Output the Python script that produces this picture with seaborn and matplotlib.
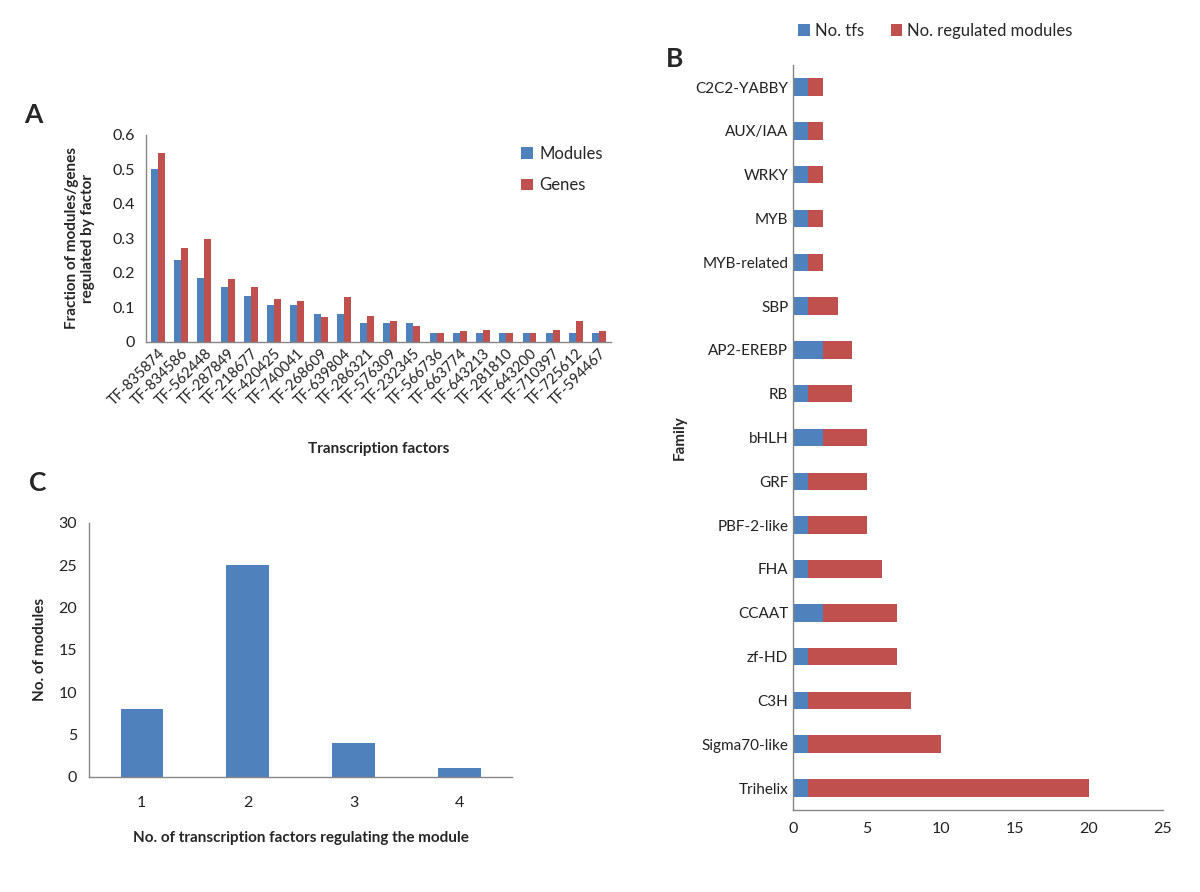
import matplotlib
matplotlib.use('Agg')
import matplotlib.pyplot as plt
import pandas as pd
import seaborn as sns
from matplotlib.ticker import FixedLocator, FuncFormatter

# Panel A data
tf_names = ['TF-835874', 'TF-834586', 'TF-562448', 'TF-287849', 'TF-218677',
            'TF-420425', 'TF-740041', 'TF-268609', 'TF-639804', 'TF-286321',
            'TF-576309', 'TF-232345', 'TF-566736', 'TF-663774', 'TF-643213',
            'TF-281810', 'TF-643200', 'TF-710397', 'TF-725612', 'TF-594467']
modules_frac = [0.5, 0.237, 0.185, 0.158, 0.132, 0.105, 0.105, 0.079, 0.079, 0.053,
                0.053, 0.053, 0.026, 0.026, 0.026, 0.026, 0.026, 0.026, 0.026, 0.026]
genes_frac = [0.547, 0.272, 0.297, 0.183, 0.158, 0.123, 0.119, 0.070, 0.128, 0.075,
              0.061, 0.045, 0.026, 0.031, 0.035, 0.026, 0.026, 0.035, 0.061, 0.031]

# Panel B data
families = ['C2C2-YABBY', 'AUX/IAA', 'WRKY', 'MYB', 'MYB-related', 'SBP', 'AP2-EREBP',
            'RB', 'bHLH', 'GRF', 'PBF-2-like', 'FHA', 'CCAAT', 'zf-HD', 'C3H',
            'Sigma70-like', 'Trihelix']
n_tfs = [1, 1, 1, 1, 1, 1, 2, 1, 2, 1, 1, 1, 2, 1, 1, 1, 1]
n_reg_modules = [1, 1, 1, 1, 1, 2, 2, 3, 3, 4, 4, 5, 5, 6, 7, 9, 19]

# Panel C data
n_regulating = ['1', '2', '3', '4']
n_modules = [8, 25, 4, 1]

BLUE = '#4F81BD'
RED = '#C0504D'
AXIS = '#868686'

sns.set_style('white')
plt.rcParams['font.family'] = ['Lato', 'DejaVu Sans']


def category_ticks(ax, n, axis='x'):
    # Excel-like: tick marks between categories, none at the labels
    bounds = FixedLocator([i - 0.5 for i in range(n + 1)])
    if axis == 'x':
        ax.xaxis.set_minor_locator(bounds)
        ax.set_xlim(-0.5, n - 0.5)
    else:
        ax.yaxis.set_minor_locator(bounds)
        ax.set_ylim(n - 0.5, -0.5)
    ax.tick_params(axis=axis, which='major', length=0)
    ax.tick_params(axis=axis, which='minor', length=5, width=1, color=AXIS, direction='out')


def style_axes(ax):
    sns.despine(ax=ax)
    for s in ['left', 'bottom']:
        ax.spines[s].set_color(AXIS)
        ax.spines[s].set_linewidth(1)
    ax.tick_params(colors='#222222', labelsize=11.5)


fig = plt.figure(figsize=(12, 8.92), dpi=100)

# ---------- A ----------
ax_a = fig.add_axes([0.122, 0.617, 0.387, 0.232])
df_a = pd.DataFrame({
    'tf': tf_names * 2,
    'frac': modules_frac + genes_frac,
    'kind': ['Modules'] * len(tf_names) + ['Genes'] * len(tf_names),
})
sns.barplot(data=df_a, x='tf', y='frac', hue='kind', palette=[BLUE, RED],
            width=0.6, saturation=1, linewidth=0, ax=ax_a)
style_axes(ax_a)
category_ticks(ax_a, len(tf_names), 'x')
ax_a.set_ylim(0, 0.6)
ax_a.set_yticks([0, 0.1, 0.2, 0.3, 0.4, 0.5, 0.6])
ax_a.yaxis.set_major_formatter(FuncFormatter(lambda v, p: f'{v:g}'))
ax_a.tick_params(axis='y', length=5, color=AXIS, direction='out')
ax_a.set_xticks(range(len(tf_names)))
ax_a.set_xticklabels(tf_names, rotation=45, ha='right', rotation_mode='anchor', fontsize=10.5)
ax_a.set_xlabel('Transcription factors', fontsize=11, fontweight='bold', labelpad=24)
ax_a.set_ylabel('Fraction of modules/genes\nregulated by factor', fontsize=11,
                fontweight='bold', labelpad=12)
ax_a.legend(title=None, frameon=False, fontsize=12, loc='upper right',
            bbox_to_anchor=(1.015, 1.02), handlelength=0.7, handleheight=0.7,
            labelspacing=0.95, handletextpad=0.4)

# ---------- B ----------
ax_b = fig.add_axes([0.661, 0.092, 0.308, 0.835])
df_b = pd.DataFrame({'family': families, 'tfs': n_tfs, 'mods': n_reg_modules})
df_b['end'] = df_b['tfs'] + df_b['mods']
sns.barplot(data=df_b, y='family', x='end', color=RED, width=0.4, saturation=1,
            linewidth=0, ax=ax_b, label='No. regulated modules')
sns.barplot(data=df_b, y='family', x='tfs', color=BLUE, width=0.4, saturation=1,
            linewidth=0, ax=ax_b, label='No. tfs')
style_axes(ax_b)
category_ticks(ax_b, len(families), 'y')
ax_b.set_xlim(0, 25)
ax_b.set_xticks([0, 5, 10, 15, 20, 25])
ax_b.tick_params(axis='x', length=5, color=AXIS, direction='out')
ax_b.tick_params(axis='y', labelsize=11)
ax_b.set_xlabel('')
ax_b.set_ylabel('Family', fontsize=11, fontweight='bold', labelpad=6)
h, l = ax_b.get_legend_handles_labels()
ax_b.legend(h[::-1], l[::-1], frameon=False, fontsize=12, ncol=2, loc='lower center',
            bbox_to_anchor=(0.385, 1.015), handlelength=0.7, handleheight=0.7,
            handletextpad=0.3, columnspacing=1.6)

# ---------- C ----------
ax_c = fig.add_axes([0.074, 0.129, 0.353, 0.285])
df_c = pd.DataFrame({'n': n_regulating, 'count': n_modules})
sns.barplot(data=df_c, x='n', y='count', color=BLUE, width=0.4, saturation=1,
            linewidth=0, ax=ax_c)
style_axes(ax_c)
category_ticks(ax_c, len(n_regulating), 'x')
ax_c.set_ylim(0, 30)
ax_c.set_yticks([0, 5, 10, 15, 20, 25, 30])
ax_c.tick_params(axis='y', length=5, color=AXIS, direction='out')
ax_c.tick_params(axis='x', pad=14)
ax_c.set_xlabel('No. of transcription factors regulating the module', fontsize=11,
                fontweight='bold', labelpad=15)
ax_c.set_ylabel('No. of modules', fontsize=11, fontweight='bold', labelpad=8)

# panel letters
fig.text(0.020, 0.862, 'A', fontsize=19, fontweight='bold')
fig.text(0.555, 0.925, 'B', fontsize=19, fontweight='bold')
fig.text(0.024, 0.450, 'C', fontsize=19, fontweight='bold')

fig.savefig('out.png', dpi=100, facecolor='white')
